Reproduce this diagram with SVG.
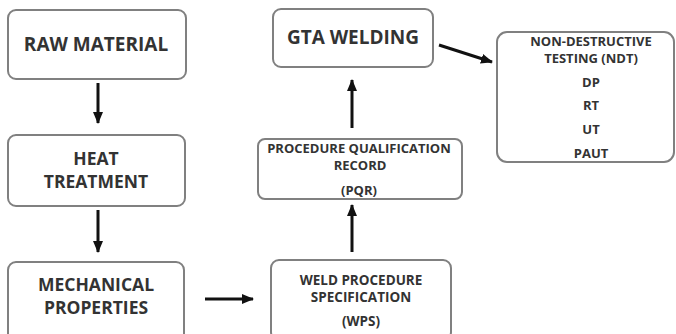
<svg xmlns="http://www.w3.org/2000/svg" width="676" height="334" viewBox="0 0 676 334">
<defs>
<marker id="ah" markerUnits="userSpaceOnUse" markerWidth="12" markerHeight="12" viewBox="0 0 12 12" refX="11" refY="6" orient="auto">
<path d="M0,1 L12,6 L0,11 Z" fill="#111"/>
</marker>
</defs>
<style>
.box{fill:#fff;stroke:#808080;stroke-width:2}
.t{font-family:"Open Sans","Liberation Sans",sans-serif;font-weight:700;fill:#333;text-anchor:middle}
.l{font-size:19px}
.k{font-size:17.5px}
.m{font-size:13.5px}
.s{font-size:13px}
.c{stroke:#111;stroke-width:3;fill:none;marker-end:url(#ah)}
</style>
<rect width="676" height="334" fill="#fff"/>
<g id="raw">
<rect class="box" x="8" y="10" width="178" height="69" rx="8"/>
<text class="t l" x="96" y="51">RAW MATERIAL</text>
</g>
<g id="heat">
<rect class="box" x="8" y="135" width="177" height="71" rx="8"/>
<text class="t k" x="96" y="164.5">HEAT</text>
<text class="t k" x="96" y="187.5">TREATMENT</text>
</g>
<g id="mech">
<rect class="box" x="8" y="262" width="176" height="80" rx="8"/>
<text class="t k" x="96" y="290.5">MECHANICAL</text>
<text class="t k" x="96" y="314">PROPERTIES</text>
</g>
<g id="wps">
<rect class="box" x="271" y="260" width="180" height="80" rx="8"/>
<text class="t m" x="361" y="285">WELD PROCEDURE</text>
<text class="t m" x="361" y="302">SPECIFICATION</text>
<text class="t m" x="361" y="326">(WPS)</text>
</g>
<g id="pqr">
<rect class="box" x="258" y="139" width="204" height="60" rx="7"/>
<text class="t s" x="359" y="153">PROCEDURE QUALIFICATION</text>
<text class="t s" x="360" y="170">RECORD</text>
<text class="t s" x="359" y="195">(PQR)</text>
</g>
<g id="gta">
<rect class="box" x="273" y="9" width="160" height="58" rx="8"/>
<text class="t l" x="353" y="44">GTA WELDING</text>
</g>
<g id="ndt">
<rect class="box" x="497" y="32" width="177" height="130" rx="10"/>
<text class="t s" x="591" y="46">NON-DESTRUCTIVE</text>
<text class="t s" x="591" y="63">TESTING (NDT)</text>
<text class="t s" x="591" y="87">DP</text>
<text class="t s" x="591" y="110">RT</text>
<text class="t s" x="591" y="134">UT</text>
<text class="t s" x="591" y="158">PAUT</text>
</g>
<g id="connectors">
<line class="c" x1="98" y1="83" x2="98" y2="123"/>
<line class="c" x1="98" y1="210" x2="98" y2="252"/>
<line class="c" x1="205" y1="299" x2="253" y2="299"/>
<line class="c" x1="352" y1="252" x2="352" y2="205"/>
<line class="c" x1="352" y1="128" x2="352" y2="80"/>
<line class="c" x1="439" y1="45" x2="492" y2="62"/>
</g>
</svg>
